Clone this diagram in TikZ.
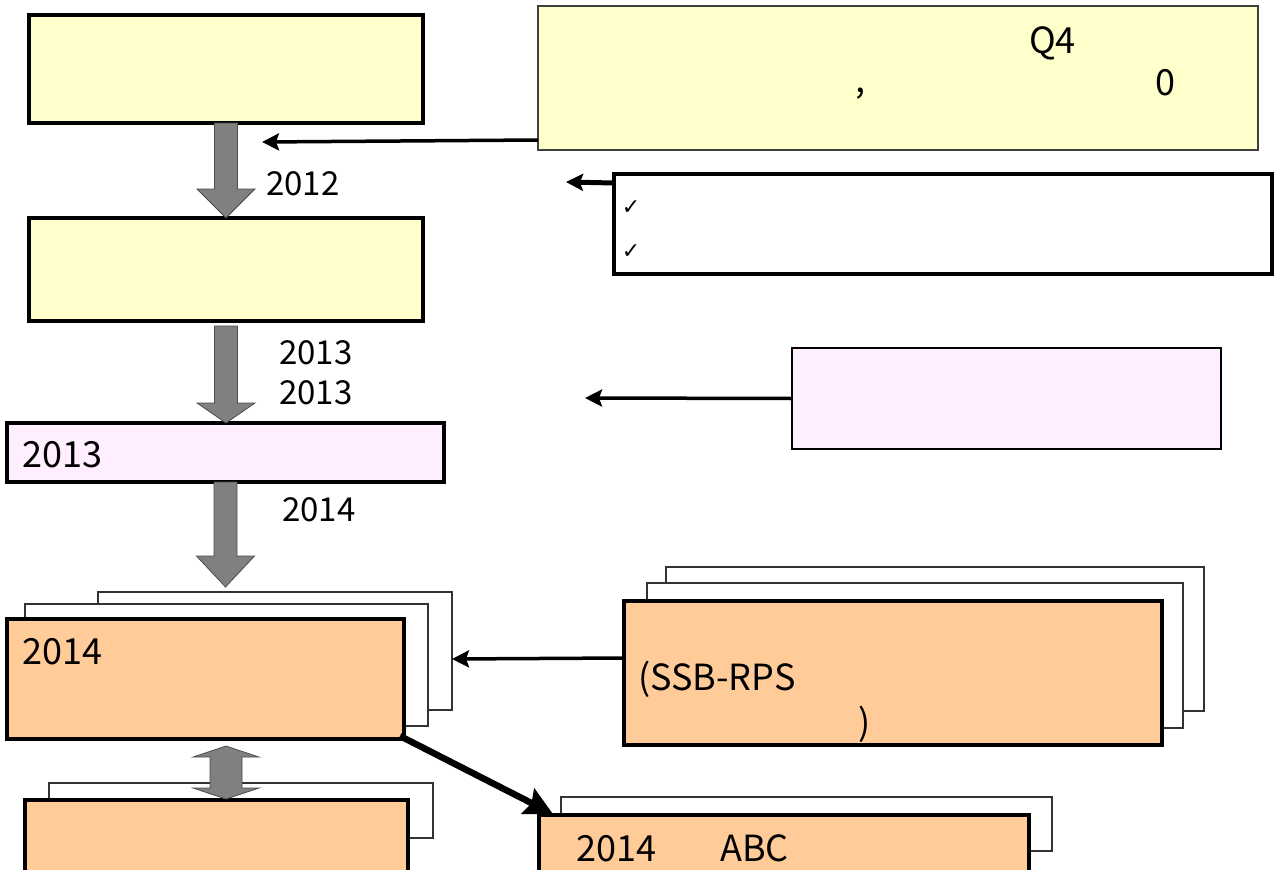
\documentclass[tikz,border=0pt]{standalone}
\usepackage{fontspec}
\setmainfont{Noto Sans CJK JP}
\newfontfamily\symfont{DejaVu Sans}
\usepackage{tikz}
\usetikzlibrary{arrows.meta, positioning, calc}
\definecolor{boxyellow}{HTML}{FFFFCC}
\definecolor{boxpink}{HTML}{FFEEFF}
\definecolor{boxorange}{HTML}{FFCC99}
\definecolor{arrowgray}{HTML}{808080}

% gray block arrow pointing down: from, to, head length
\newcommand{\blockdown}[3]{%
  \draw[blockarrow] let \p1=(#1), \p2=(#2) in
    (\x1-11.5pt,\y1) -- (\x1-11.5pt,\y2+#3) -- (\x1-29pt,\y2+#3) -- (\x1,\y2)
    -- (\x1+29pt,\y2+#3) -- (\x1+11.5pt,\y2+#3) -- (\x1+11.5pt,\y1) -- cycle;
}

\begin{document}
\begin{tikzpicture}[
    x=1pt, y=-1pt,
    box/.style={draw, line width=3.6pt, inner sep=0pt, outer sep=0pt},
    thinbox/.style={draw=black!75, line width=1.2pt, inner sep=0pt, outer sep=0pt},
    backbox/.style={draw=black!80, fill=white, line width=1.2pt, inner sep=0pt, outer sep=0pt},
    lbl/.style={font=\fontsize{33}{36}\selectfont, inner sep=0pt},
    boxlbl/.style={font=\fontsize{36}{40}\selectfont, inner sep=0pt, anchor=base west},
    check/.style={font=\fontsize{22}{24}\selectfont\symfont, inner sep=0pt},
    blockarrow/.style={fill=arrowgray, draw=black!70, line width=0.8pt},
    arrow/.style={-{Stealth[length=17pt, width=17pt, inset=3pt]}, line width=3.5pt},
    bigarrow/.style={-{Stealth[length=28pt, width=28pt, inset=4pt]}, line width=6.5pt}
]
    \useasboundingbox (0,0) rectangle (1277,870);

    % left column
    \node[box, fill=boxyellow, minimum width=394, minimum height=108] (plan) at (226,69) {};
    \node[box, fill=boxyellow, minimum width=394, minimum height=103] (draft) at (226,269.5) {};
    \node[box, fill=boxpink, minimum width=437, minimum height=59] (trial) at (225.5,452.5) {};
    \node[boxlbl] (trialyear) at (22,467) {2013};

    \node[backbox, minimum width=354, minimum height=118] (full2) at (275,651) {};
    \node[backbox, minimum width=403, minimum height=122] (full1) at (226.5,665) {};
    \node[box, fill=boxorange, minimum width=397, minimum height=120] (full) at (205.5,679) {};
    \node[boxlbl] (fullyear) at (22,664) {2014};

    \node[backbox, minimum width=384, minimum height=55] (eval1) at (241,810.5) {};
    \node[box, fill=boxorange, minimum width=383, minimum height=80] (eval) at (216.5,840) {};

    % right column
    \node[thinbox, fill=boxyellow, minimum width=720, minimum height=144] (review) at (898,78) {};
    \node[boxlbl] (q4) at (1029,53) {Q4};
    \node[boxlbl] (zero) at (1155,95) {0};
    \node[boxlbl] (comma) at (855,92) {,};

    \node[box, fill=white, minimum width=658, minimum height=100] (issues) at (943,224) {};
    \node[check] (check1) at (631,208) {✓};
    \node[check] (check2) at (631,252) {✓};

    \node[draw, line width=2.5pt, fill=boxpink, minimum width=429, minimum height=101,
          inner sep=0pt, outer sep=0pt] (study) at (1006.5,398.5) {};

    \node[backbox, minimum width=538, minimum height=144] (sys2) at (935,639) {};
    \node[backbox, minimum width=536, minimum height=145] (sys1) at (915,655.5) {};
    \node[box, fill=boxorange, minimum width=538, minimum height=144] (sys) at (893,673) {};
    \node[boxlbl] (ssb) at (638,690) {(SSB-RPS};
    \node[boxlbl] (paren) at (858,735) {)};

    \node[backbox, minimum width=491, minimum height=54] (abc1) at (806.5,824) {};
    \node[box, fill=boxorange, minimum width=490, minimum height=65] (abc) at (784,847.5) {};
    \node[boxlbl] (abcyear) at (576,861) {2014};
    \node[boxlbl] (abcname) at (720,861) {ABC};

    % labels beside the flow
    \node[lbl, anchor=west] (y2012) at (266,184) {2012};
    \node[lbl, anchor=west] (y2013a) at (279,353) {2013};
    \node[lbl, anchor=west] (y2013b) at (279,393) {2013};
    \node[lbl, anchor=west] (y2014) at (282,510) {2014};

    % gray flow arrows
    \blockdown{plan.south}{draft.north}{29pt}
    \blockdown{$(draft.south)+(0,5)$}{trial.north}{20pt}
    \coordinate (fulltop) at (226,587);
    \blockdown{trial.south}{fulltop}{31pt}
    \coordinate (linktop) at (226,746);
    \coordinate (linkbot) at (226,799);
    \draw[blockarrow] let \p1=(linktop), \p2=(linkbot) in
        (\x1,\y1) -- (\x1+33pt,\y1-11pt) -- (\x1+16pt,\y1-11pt) -- (\x1+16pt,\y2+11pt)
        -- (\x1+33pt,\y2+11pt) -- (\x1,\y2) -- (\x1-33pt,\y2+11pt) -- (\x1-16pt,\y2+11pt)
        -- (\x1-16pt,\y1-11pt) -- (\x1-33pt,\y1-11pt) -- cycle;

    % black arrows
    \coordinate (reviewend) at (262,142);
    \draw[arrow] ($(review.south west)+(0,-10)$) -- (reviewend);
    \coordinate (issuesend) at (566,182);
    \draw[arrow, line width=5pt] ($(issues.north west)+(0,9)$) -- (issuesend);
    \coordinate (studyend) at (585,398);
    \draw[arrow] (study.west) -- (studyend);
    \draw[arrow] ($(sys.west)+(0,-15)$) -- (full2.east |- 0,659);
    \draw[bigarrow] ($(full.south east)+(-4,-3)$) -- ($(abc.north west)+(14,-1)$);
\end{tikzpicture}
\end{document}
